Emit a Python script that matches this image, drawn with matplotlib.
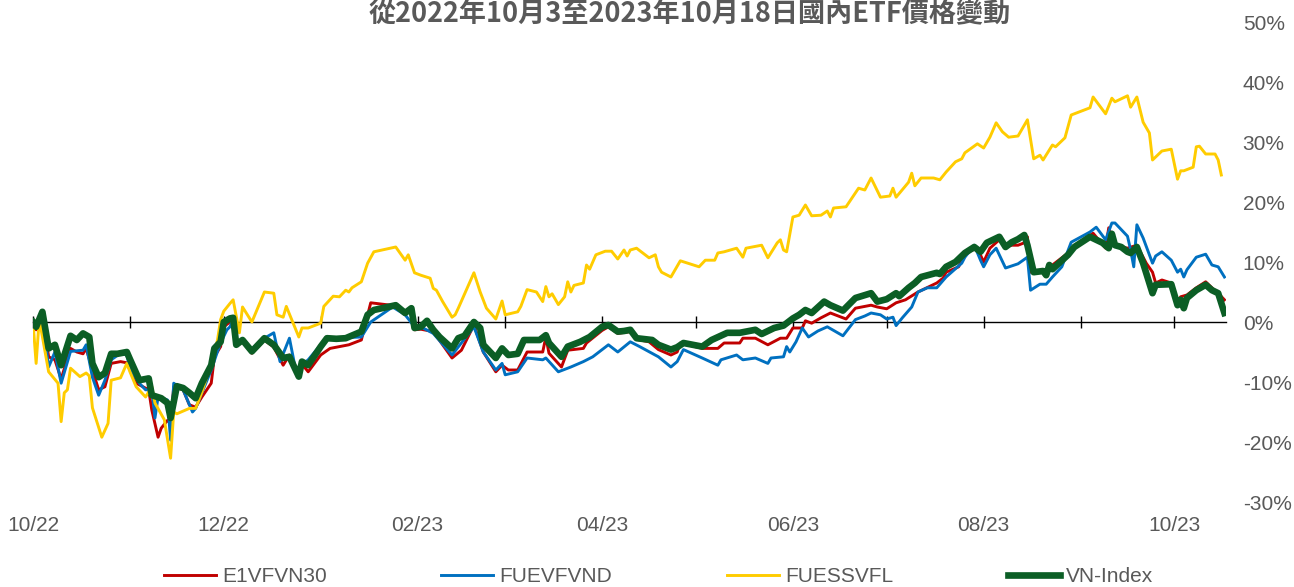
import pandas as pd
import numpy as np
import matplotlib
matplotlib.use('Agg')
import matplotlib.pyplot as plt

plt.rcParams['font.family'] = ['Liberation Sans', 'DejaVu Sans']

# 資料：自 2022-10-01 起算的天數，以及相對漲跌幅(%)
base = pd.Timestamp('2022-10-01')

vn_days = [0, 1, 3, 5, 7, 9, 12, 14, 16, 18, 19, 21, 23, 25, 27, 30, 31, 34, 37, 38,
           41, 43, 44, 46, 48, 50, 52, 54, 57, 58, 60, 61, 63, 64, 65, 67, 70, 74, 77, 80,
           82, 83, 85, 86, 88, 92, 94, 97, 100, 105, 107, 109, 116, 119, 121, 122, 124, 126, 128, 130,
           134, 136, 138, 141, 143, 144, 148, 150, 152, 155, 157, 162, 164, 165, 169, 171, 175, 178, 182, 184,
           187, 189, 191, 193, 198, 200, 204, 206, 208, 214, 217, 222, 226, 231, 233, 237, 240, 243, 245, 247,
           249, 253, 255, 259, 263, 268, 270, 273, 276, 277, 280, 282, 284, 289, 290, 292, 295, 298, 301, 303,
           305, 309, 311, 313, 315, 317, 318, 320, 323, 324, 325, 326, 331, 333, 338, 342, 344, 345, 346, 348,
           350, 351, 353, 355, 358, 359, 364, 366, 367, 368, 369, 372, 375, 377, 379, 381]
vn_vals = [0, -0.8, 1.7, -4.4, -3.8, -7.2, -2.3, -3.0, -1.9, -2.5, -6.9, -9.2, -8.5, -5.3, -5.3, -5.0, -6.2, -9.7, -9.4, -12.2,
           -12.7, -13.5, -16.0, -10.7, -11.0, -11.8, -12.7, -10.2, -7.2, -4.4, -3.3, 0.0, 0.6, 0.7, -3.8, -3.0, -4.9, -2.7, -3.8, -6.0,
           -5.8, -6.9, -9.1, -6.6, -7.2, -4.1, -2.7, -2.8, -2.7, -1.6, 1.2, 2.0, 2.8, 1.5, 2.3, -1.0, -0.8, 0.2, -1.3, -2.5,
           -4.4, -2.7, -2.3, 0.0, -1.0, -3.8, -6.0, -4.4, -5.5, -5.3, -3.0, -3.0, -2.2, -3.5, -5.8, -4.1, -3.3, -2.5, -0.8, -0.5,
           -1.6, -1.5, -1.3, -2.7, -3.0, -3.8, -4.6, -4.2, -3.5, -4.1, -3.0, -1.8, -1.8, -1.3, -2.0, -1.0, -0.6, 0.6, 1.2, 2.0,
           1.5, 3.4, 2.8, 1.9, 4.0, 4.8, 3.4, 3.8, 4.8, 4.3, 5.7, 6.5, 7.5, 8.2, 8.0, 9.2, 10.0, 11.5, 12.5, 11.7,
           13.2, 14.2, 12.5, 13.3, 13.8, 14.5, 12.8, 8.3, 8.5, 7.8, 9.5, 8.8, 11.2, 12.5, 14.2, 13.2, 12.3, 14.7, 12.8, 12.5,
           11.7, 11.5, 12.5, 9.8, 4.8, 6.2, 6.3, 2.8, 3.7, 2.3, 4.0, 5.3, 6.2, 5.3, 4.8, 1.5]

e1_days = [0, 1, 3, 5, 7, 9, 12, 14, 16, 17, 19, 21, 23, 25, 28, 30, 31, 33, 37, 38,
           40, 41, 43, 44, 45, 48, 50, 52, 54, 57, 58, 60, 61, 63, 64, 65, 67, 70, 74, 77,
           80, 82, 83, 84, 86, 88, 92, 95, 101, 105, 108, 116, 119, 121, 122, 124, 128, 134, 137, 141,
           144, 148, 150, 152, 155, 158, 163, 164, 165, 169, 171, 176, 177, 182, 184, 187, 191, 193, 197, 200,
           204, 206, 207, 214, 219, 221, 226, 227, 231, 235, 239, 241, 243, 246, 247, 249, 252, 255, 260, 263,
           268, 270, 273, 276, 279, 283, 289, 291, 292, 296, 298, 302, 304, 306, 309, 311, 313, 315, 317, 318,
           319, 323, 324, 326, 331, 333, 339, 343, 344, 346, 350, 353, 356, 358, 359, 361, 364, 366, 367, 369,
           372, 375, 377, 379, 381]
e1_vals = [0, -1.3, 1.5, -5.8, -6.3, -9.5, -4.4, -5.0, -5.3, -4.4, -8.0, -11.3, -10.8, -6.9, -6.6, -6.8, -8.0, -10.2, -11.3, -14.7,
           -19.2, -17.7, -16.4, -16.9, -10.8, -11.3, -13.8, -14.2, -12.5, -10.2, -5.8, -4.1, -0.8, 0.0, 0.3, -4.0, -3.3, -5.2, -3.0, -4.2,
           -7.2, -5.5, -7.0, -8.0, -7.0, -8.3, -5.5, -4.4, -3.8, -3.0, 3.2, 2.7, 1.5, 2.0, -1.3, -1.2, -1.6, -6.0, -4.7, -0.5,
           -5.0, -8.3, -7.2, -8.0, -8.0, -5.0, -5.0, -2.5, -5.2, -7.5, -4.7, -4.4, -3.5, -1.4, -0.8, -1.9, -1.6, -2.9, -3.3, -4.6,
           -5.5, -5.0, -3.5, -4.4, -4.4, -3.5, -3.5, -2.7, -2.7, -3.8, -2.7, -2.7, -1.0, -1.0, 0.2, -0.2, 0.7, 1.5, 0.5, 2.3,
           2.8, 2.5, 2.2, 3.2, 3.7, 5.0, 6.5, 7.3, 8.3, 9.2, 11.5, 12.3, 10.0, 12.3, 13.7, 12.5, 12.8, 12.8, 13.2, 14.2,
           8.3, 8.7, 7.8, 9.5, 11.5, 12.5, 14.8, 12.3, 15.7, 12.8, 12.3, 12.8, 9.8, 8.3, 6.5, 7.0, 6.5, 3.2, 4.2, 4.5,
           5.7, 6.7, 5.7, 4.8, 3.7]

fv_days = [0, 1, 3, 5, 7, 9, 12, 16, 17, 19, 21, 23, 25, 28, 30, 31, 34, 36, 38, 39,
           40, 42, 43, 44, 45, 48, 51, 52, 54, 57, 59, 60, 62, 63, 64, 65, 67, 70, 74, 77,
           79, 82, 84, 88, 92, 95, 105, 108, 115, 119, 122, 124, 128, 134, 141, 144, 148, 150, 151, 155,
           158, 163, 164, 168, 172, 176, 179, 181, 184, 187, 191, 194, 200, 204, 206, 208, 214, 219, 220, 225,
           227, 231, 235, 236, 240, 241, 242, 244, 246, 248, 251, 254, 259, 263, 266, 268, 271, 273, 275, 276,
           278, 281, 283, 286, 289, 292, 297, 298, 301, 303, 304, 306, 308, 311, 315, 318, 319, 322, 324, 326,
           329, 332, 338, 340, 343, 345, 346, 350, 351, 352, 353, 355, 358, 359, 361, 364, 366, 367, 368, 369,
           372, 375, 377, 379, 381]
fv_vals = [0, -1.0, 1.0, -7.5, -5.0, -10.2, -4.9, -4.7, -3.8, -9.2, -12.2, -9.7, -6.3, -5.2, -5.5, -7.7, -10.2, -11.3, -11.3, -16.0,
           -12.5, -12.8, -13.0, -19.7, -10.2, -11.3, -15.0, -14.4, -11.8, -8.0, -4.9, -3.5, -1.3, -0.8, 0.5, -3.5, -3.0, -4.5, -2.7, -1.8,
           -6.6, -2.7, -8.0, -6.3, -3.8, -2.7, -2.5, 0.0, 2.5, 1.2, -0.8, -0.8, -1.9, -5.5, -0.8, -5.0, -8.0, -6.9, -8.8, -8.3,
           -6.0, -6.3, -6.0, -8.3, -7.5, -6.6, -5.8, -5.0, -3.8, -5.0, -3.3, -4.1, -5.8, -7.5, -6.6, -4.6, -6.0, -7.2, -6.3, -5.5,
           -6.3, -6.0, -6.9, -6.0, -5.8, -4.1, -5.0, -3.3, -1.0, -2.5, -1.5, -0.8, -2.3, 0.4, 1.0, 1.5, 1.2, 0.5, 0.8, -0.6,
           0.7, 2.5, 5.0, 5.7, 5.7, 7.5, 9.8, 10.8, 12.8, 10.3, 9.2, 11.2, 12.3, 9.0, 9.7, 10.8, 5.3, 6.3, 6.3, 7.5,
           9.2, 13.3, 15.0, 15.8, 13.7, 16.5, 16.5, 14.3, 12.0, 9.2, 16.2, 14.0, 9.8, 11.0, 11.7, 10.3, 8.3, 8.8, 7.5, 8.7,
           10.8, 11.3, 9.5, 9.2, 7.5]

fs_days = [0, 1, 2, 5, 8, 9, 10, 11, 12, 15, 17, 18, 19, 22, 24, 25, 28, 30, 31, 33,
           36, 38, 39, 42, 44, 45, 46, 50, 52, 54, 57, 59, 60, 61, 63, 64, 66, 67, 70, 74,
           77, 78, 80, 81, 85, 86, 88, 92, 93, 96, 98, 100, 101, 102, 105, 107, 109, 116, 119, 120,
           122, 124, 127, 128, 129, 131, 134, 135, 136, 141, 143, 145, 148, 150, 151, 155, 156, 158, 161, 163,
           164, 165, 166, 168, 170, 171, 172, 173, 176, 177, 178, 180, 183, 185, 187, 189, 190, 191, 193, 197,
           199, 200, 201, 204, 207, 213, 215, 218, 219, 221, 225, 227, 228, 233, 235, 238, 239, 240, 241, 243,
           245, 247, 249, 252, 254, 255, 256, 260, 264, 266, 268, 271, 274, 275, 276, 280, 281, 282, 284, 288,
           290, 292, 295, 297, 298, 302, 304, 306, 308, 310, 312, 315, 318, 320, 322, 323, 326, 327, 330, 332,
           338, 339, 343, 345, 346, 350, 351, 353, 355, 357, 358, 361, 364, 366, 367, 368, 371, 372, 373, 375,
           378, 379, 380]
fs_vals = [0, -6.9, 0.5, -8.3, -10.2, -16.6, -11.8, -11.3, -7.7, -9.1, -8.5, -9.0, -14.3, -19.2, -16.9, -9.7, -9.3, -6.9, -8.3, -10.8,
           -12.5, -10.8, -13.5, -16.3, -22.7, -15.0, -15.3, -14.4, -14.4, -11.7, -6.9, -3.0, 0.4, 1.8, 3.1, 3.7, -1.8, 2.5, 0.0, 5.0,
           4.8, 1.2, 0.8, 2.6, -2.5, -1.0, -1.0, -0.2, 2.6, 4.3, 4.2, 5.3, 5.0, 5.7, 6.7, 9.8, 11.7, 12.5, 10.3, 11.2,
           8.2, 7.8, 7.3, 5.6, 5.3, 3.4, 0.8, 1.2, 2.3, 8.2, 5.0, 2.3, 0.5, 3.5, 1.2, 1.7, 2.6, 5.4, 5.0, 3.4,
           5.9, 4.2, 4.7, 2.9, 4.2, 6.7, 5.0, 6.1, 6.5, 9.5, 8.8, 11.2, 11.8, 11.8, 10.5, 12.0, 11.0, 12.0, 12.3, 10.7,
           11.2, 9.2, 8.3, 7.5, 10.2, 9.2, 10.3, 10.3, 11.5, 11.7, 12.3, 10.8, 12.3, 12.8, 10.7, 13.2, 13.7, 12.0, 11.7, 17.5,
           17.8, 19.5, 17.7, 17.8, 18.5, 17.5, 19.0, 19.2, 22.3, 22.0, 24.0, 20.8, 21.0, 22.3, 20.8, 23.3, 24.8, 22.7, 24.0, 24.0,
           23.7, 25.0, 26.7, 27.2, 28.2, 29.7, 29.0, 30.8, 33.2, 31.7, 30.8, 31.0, 33.7, 27.2, 27.8, 27.0, 29.5, 29.2, 30.7, 34.5,
           35.7, 37.5, 34.7, 37.3, 36.7, 37.7, 35.8, 37.5, 33.3, 31.5, 27.0, 28.5, 28.8, 23.8, 25.2, 25.2, 25.8, 29.2, 29.3, 28.0,
           28.0, 27.0, 24.5]

series = [
    ('E1VFVN30', e1_days, e1_vals, '#C00000', 2.1),
    ('FUEVFVND', fv_days, fv_vals, '#0070C0', 2.1),
    ('FUESSVFL', fs_days, fs_vals, '#FFCC00', 2.1),
    ('VN-Index', vn_days, vn_vals, '#0B5E25', 4.8),
]

month_labels = ['10/22', '12/22', '02/23', '04/23', '06/23', '08/23', '10/23']
ytick_vals = [-30, -20, -10, 0, 10, 20, 30, 40, 50]

grey = '#595959'

fig = plt.figure(figsize=(12.94, 5.87), dpi=100)
ax = fig.add_axes([33/1294, 85/587, (1226-33)/1294, 480/587])

for name, d, v, c, lw in series:
    x = base + pd.to_timedelta(d, unit='D')
    ax.plot(x, v, color=c, lw=lw, label=name, solid_joinstyle='round')

ax.set_xlim(base, base + pd.Timedelta(days=381.5))
ax.set_ylim(-30, 50)

for s in ['top', 'left', 'right']:
    ax.spines[s].set_visible(False)
ax.spines['bottom'].set_position(('data', 0))
ax.spines['bottom'].set_color('black')
ax.spines['bottom'].set_linewidth(1.0)
ax.spines['bottom'].set_zorder(1)

months = pd.date_range('2022-10-01', '2023-10-01', freq='MS')
ax.set_xticks(months)
ax.tick_params(axis='x', direction='inout', length=9, width=1, colors='black', labelbottom=False)

# 每兩個月一個標籤
for lab, m in zip(month_labels, months[::2]):
    ax.text(m, -0.048, lab, transform=ax.get_xaxis_transform(), ha='center', va='center',
            fontsize=15, color=grey)

ax.yaxis.tick_right()
ax.set_yticks(ytick_vals)
ax.set_yticklabels(['%d%%' % t for t in ytick_vals])
ax.tick_params(axis='y', length=0, pad=12, labelsize=15, labelcolor=grey)

fig.text(0.533, 0.975, '從2022年10月3至2023年10月18日國內ETF價格變動', ha='center', va='center',
         fontsize=19.5, fontweight='bold', color=grey, family=['Noto Sans CJK TC', 'DejaVu Sans'])

leg = fig.legend(loc='center', bbox_to_anchor=(0.509, 0.018), ncol=4, frameon=False,
                 fontsize=15, handlelength=2.5, handletextpad=0.3, columnspacing=5.5)
for t in leg.get_texts():
    t.set_color(grey)

fig.savefig('out.png', dpi=100)
